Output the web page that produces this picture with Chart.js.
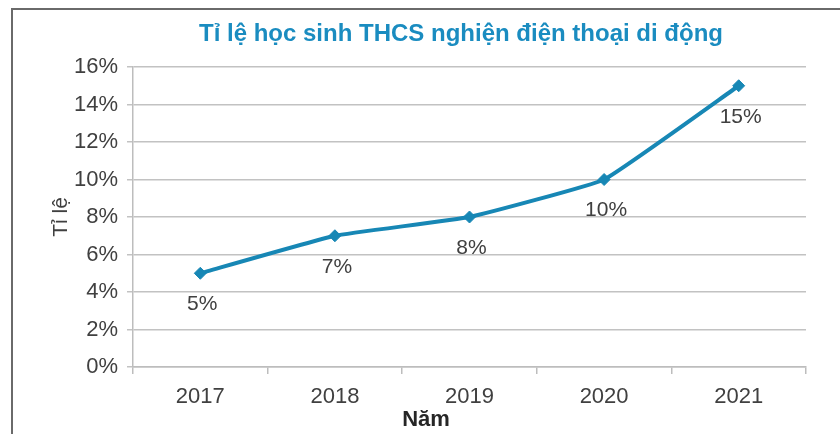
<!DOCTYPE html>
<html>
<head>
<meta charset="utf-8">
<script src="https://cdn.jsdelivr.net/npm/chart.js@4/dist/chart.umd.min.js"></script>
<style>
  html, body { margin: 0; padding: 0; background: #fff; }
  #wrap { width: 840px; height: 434px; }
</style>
</head>
<body>
<div id="wrap"><canvas id="lineChart" width="840" height="434"></canvas></div>
<script>
const years = ['2017', '2018', '2019', '2020', '2021'];
const rates = [5, 7, 8, 10, 15];
const yTicks = [0, 2, 4, 6, 8, 10, 12, 14, 16];
const chartTitle = 'Tỉ lệ học sinh THCS nghiện điện thoại di động';
const xTitle = 'Năm';
const yTitle = 'Tỉ lệ';

const lineColor = '#1787b5';
const fontFam = '"Liberation Sans", Arial, sans-serif';

// frame, title and x title (the picture is cut from a bigger box)
const framePlugin = {
    id: 'frame',
    beforeDraw(chart) {
        const ctx = chart.ctx;
        ctx.save();
        ctx.strokeStyle = '#6a6a6a';
        ctx.lineWidth = 2;
        ctx.beginPath();
        ctx.moveTo(12, 434);
        ctx.lineTo(12, 9);
        ctx.lineTo(840, 9);
        ctx.stroke();

        ctx.textAlign = 'center';
        ctx.textBaseline = 'middle';
        ctx.fillStyle = '#1a8cc0';
        ctx.font = 'bold 24px ' + fontFam;
        ctx.fillText(chartTitle, 461, 34);

        ctx.fillStyle = '#262626';
        ctx.font = 'bold 22px ' + fontFam;
        ctx.fillText(xTitle, 426, 420);
        ctx.restore();
    }
};

// value labels under each point
const valueLabels = {
    id: 'valueLabels',
    afterDatasetsDraw(chart) {
        const ctx = chart.ctx;
        const meta = chart.getDatasetMeta(0);
        ctx.save();
        ctx.font = '21px ' + fontFam;
        ctx.fillStyle = '#404040';
        ctx.textAlign = 'center';
        ctx.textBaseline = 'middle';
        meta.data.forEach((pt, i) => {
            ctx.fillText(rates[i] + '%', pt.x + 2, pt.y + 31);
        });
        ctx.restore();
    }
};

const ctx = document.getElementById('lineChart').getContext('2d');
new Chart(ctx, {
    type: 'line',
    data: {
        labels: years,
        datasets: [{
            data: rates,
            borderColor: lineColor,
            backgroundColor: lineColor,
            borderWidth: 4,
            tension: 0.1,
            pointStyle: 'rectRot',
            pointRadius: 6,
            pointBorderWidth: 1,
            fill: false
        }]
    },
    options: {
        responsive: false,
        animation: false,
        layout: { padding: { left: 0, right: 34, top: 67, bottom: 0 } },
        plugins: {
            legend: { display: false },
            tooltip: { enabled: false },
            title: { display: false }
        },
        scales: {
            x: {
                offset: true,
                grid: {
                    offset: true,
                    drawOnChartArea: false,
                    drawTicks: true,
                    tickLength: 7,
                    color: '#bdbdbd',
                    lineWidth: 1.5
                },
                border: { color: '#bdbdbd', width: 1.5 },
                ticks: {
                    color: '#404040',
                    font: { family: fontFam, size: 22 },
                    padding: 10,
                    maxRotation: 0
                },
                afterFit(scale) { scale.height = 67; }
            },
            y: {
                min: 0,
                max: 16,
                afterBuildTicks(scale) { scale.ticks = yTicks.map(v => ({ value: v })); },
                grid: {
                    color: '#c2c2c2',
                    lineWidth: 1.5,
                    tickLength: 6
                },
                border: { color: '#bdbdbd', width: 1.5 },
                ticks: {
                    color: '#404040',
                    font: { family: fontFam, size: 22 },
                    padding: 9,
                    callback: v => v + '%'
                },
                title: {
                    display: true,
                    text: yTitle,
                    color: '#404040',
                    font: { family: fontFam, size: 21, lineHeight: 1.2 },
                    padding: { top: 49, bottom: 0 }
                },
                afterFit(scale) { scale.width = 133; }
            }
        }
    },
    plugins: [framePlugin, valueLabels]
});
</script>
</body>
</html>
